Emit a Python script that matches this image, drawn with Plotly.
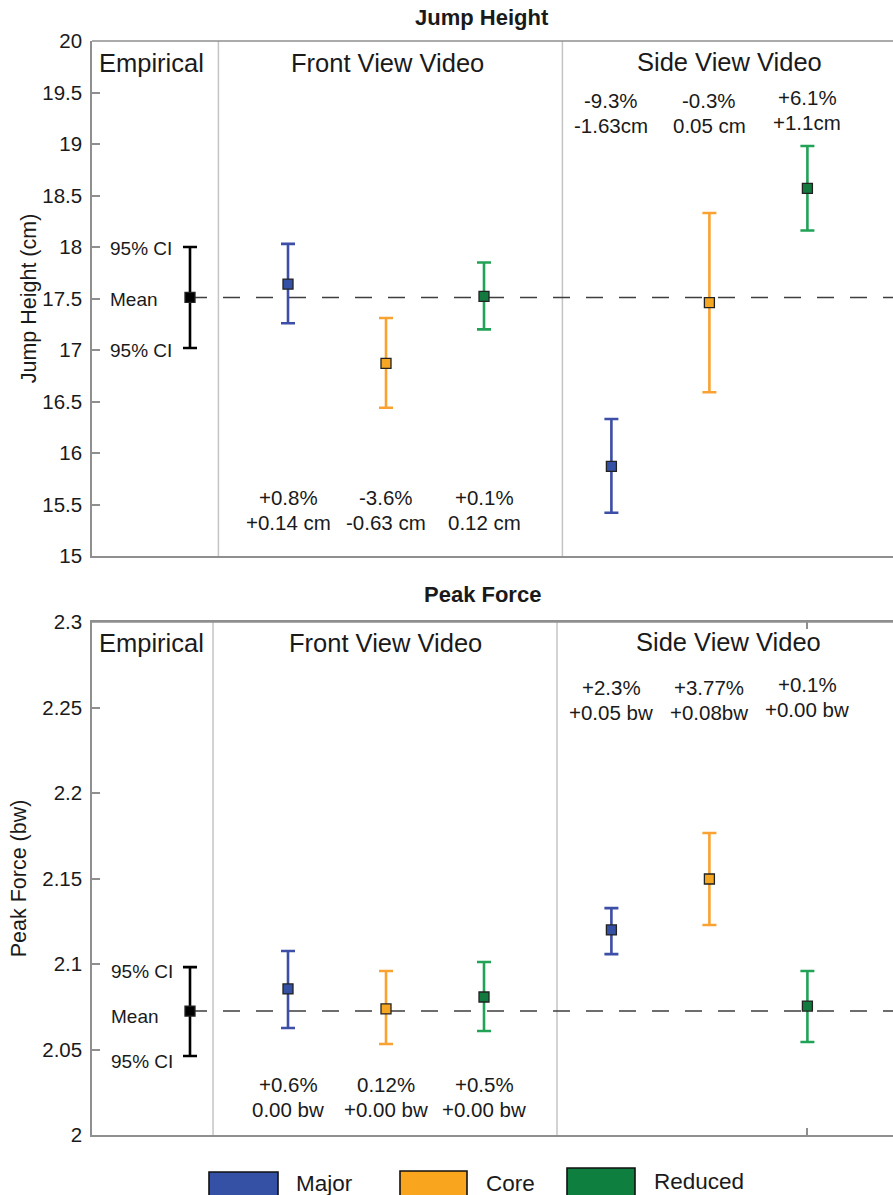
import plotly.graph_objects as go

# ---- data ----
groups = ["Major", "Core", "Reduced"]
marker_fill = {"Major": "#3551a6", "Core": "#f5a623", "Reduced": "#127a3f"}
bar_color = {"Major": "#3c4ea5", "Core": "#f9a232", "Reduced": "#22a257"}
legend_fill = {"Major": "#3551a6", "Core": "#f9a61e", "Reduced": "#0f7f40"}

# x positions: empirical slot, front view slots, side view slots
x_emp = 1.0
x_front = [2.0, 3.0, 4.0]
x_side = [5.3, 6.3, 7.3]

# Jump height (cm)
jh_emp_mean, jh_emp_lo, jh_emp_hi = 17.51, 17.02, 18.0
jh_front_mean = [17.64, 16.87, 17.52]
jh_front_lo = [17.26, 16.44, 17.20]
jh_front_hi = [18.03, 17.31, 17.85]
jh_side_mean = [15.87, 17.46, 18.57]
jh_side_lo = [15.42, 16.59, 18.16]
jh_side_hi = [16.33, 18.33, 18.98]
jh_front_labels = [("+0.8%", "+0.14 cm"), ("-3.6%", "-0.63 cm"), ("+0.1%", "0.12 cm")]
jh_side_labels = [("-9.3%", "-1.63cm"), ("-0.3%", "0.05 cm"), ("+6.1%", "+1.1cm")]

# Peak force (bw)
pf_emp_mean, pf_emp_lo, pf_emp_hi = 2.0725, 2.0462, 2.0982
pf_front_mean = [2.0854, 2.0737, 2.0807]
pf_front_lo = [2.0626, 2.0532, 2.0608]
pf_front_hi = [2.1076, 2.0959, 2.1012]
pf_side_mean = [2.1199, 2.1497, 2.0754]
pf_side_lo = [2.1058, 2.1228, 2.0544]
pf_side_hi = [2.1327, 2.1766, 2.0959]
pf_front_labels = [("+0.6%", "0.00 bw"), ("0.12%", "+0.00 bw"), ("+0.5%", "+0.00 bw")]
pf_side_labels = [("+2.3%", "+0.05 bw"), ("+3.77%", "+0.08bw"), ("+0.1%", "+0.00 bw")]

jh_ticks = [15, 15.5, 16, 16.5, 17, 17.5, 18, 18.5, 19, 19.5, 20]
pf_ticks = [2, 2.05, 2.1, 2.15, 2.2, 2.25, 2.3]

FONT = "Liberation Sans, Arial, sans-serif"
INK = "#1a1a1a"
AXIS = "#8f8f8f"
X_MAX = 801 / 98.0

fig = go.Figure()


def add_point(x, mean, lo, hi, fill, line, xa, ya):
    fig.add_trace(go.Scatter(
        x=[x], y=[mean], mode="markers", xaxis=xa, yaxis=ya,
        marker=dict(symbol="square", size=10, color=fill,
                    line=dict(color="#222222", width=1.3)),
        error_y=dict(type="data", symmetric=False, array=[hi - mean],
                     arrayminus=[mean - lo], color=line, thickness=2.6, width=7),
        showlegend=False, hoverinfo="skip"))


panels = [
    ("x", "y", (jh_emp_mean, jh_emp_lo, jh_emp_hi), (jh_front_mean, jh_front_lo, jh_front_hi),
     (jh_side_mean, jh_side_lo, jh_side_hi)),
    ("x2", "y2", (pf_emp_mean, pf_emp_lo, pf_emp_hi), (pf_front_mean, pf_front_lo, pf_front_hi),
     (pf_side_mean, pf_side_lo, pf_side_hi)),
]

for xa, ya, emp, front, side in panels:
    # dashed reference line at the empirical mean
    fig.add_shape(type="line", xref=xa, yref=ya, x0=x_emp, x1=X_MAX,
                  y0=emp[0], y1=emp[0], line=dict(color="#3e3e3e", width=1.4, dash="17px,16px"),
                  layer="below")
    add_point(x_emp, emp[0], emp[1], emp[2], "#000000", "#000000", xa, ya)
    for i, g in enumerate(groups):
        add_point(x_front[i], front[0][i], front[1][i], front[2][i],
                  marker_fill[g], bar_color[g], xa, ya)
        add_point(x_side[i], side[0][i], side[1][i], side[2][i],
                  marker_fill[g], bar_color[g], xa, ya)

# panel separators and top border
for xr, yr, seps in [("x", "y", [1.29, 4.80]), ("x2", "y2", [1.235, 4.745])]:
    for s in seps:
        fig.add_shape(type="line", xref=xr, yref=yr + " domain", x0=s, x1=s, y0=0, y1=1,
                      line=dict(color="#c4c4c4", width=1.5), layer="below")
    fig.add_shape(type="line", xref=xr + " domain", yref=yr + " domain", x0=0, x1=1, y0=1, y1=1,
                  line=dict(color=AXIS, width=1.5))

ann = []


def text(xr, yr, x, y, t, size=20.5, xanchor="center", yanchor="middle", **kw):
    ann.append(dict(xref=xr, yref=yr, x=x, y=y, text=t, showarrow=False,
                    xanchor=xanchor, yanchor=yanchor,
                    font=dict(family=FONT, size=size, color=INK), **kw))


# section headers
for xr, yr, ypos, emp_x, fr_x, sd_x in [("x", "y domain", 0.957, 0.61, 3.015, 6.5),
                                         ("x2", "y2 domain", 0.959, 0.605, 2.99, 6.49)]:
    text(xr, yr, emp_x, ypos, "Empirical", size=25.5)
    text(xr, yr, fr_x, ypos, "Front View Video", size=25.5)
    text(xr, yr, sd_x, ypos + 0.002, "Side View Video", size=25.5)

# difference labels (two lines each)
for xr, yr, labels, xs, ymid, shifts in [
    ("x", "y", jh_front_labels, x_front, 15.45, [0, 0, 0]),
    ("x", "y", jh_side_labels, x_side, 19.30, [0, 0, 3]),
    ("x2", "y2", pf_front_labels, x_front, 2.0222, [0, 0, 0]),
    ("x2", "y2", pf_side_labels, x_side, 2.2544, [0, 0, 3]),
]:
    for i, (l1, l2) in enumerate(labels):
        text(xr, yr, xs[i], ymid, l1, yshift=12.5 + shifts[i])
        text(xr, yr, xs[i], ymid, l2, yshift=-12.5 + shifts[i])

# CI / mean labels beside the empirical point
text("x", "y", 0.165, 17.99, "95% CI", size=19, xanchor="left")
text("x", "y", 0.165, 17.49, "Mean", size=19, xanchor="left")
text("x", "y", 0.165, 17.0, "95% CI", size=19, xanchor="left")
text("x2", "y2", 0.175, 2.0955, "95% CI", size=19, xanchor="left")
text("x2", "y2", 0.175, 2.0695, "Mean", size=19, xanchor="left")
text("x2", "y2", 0.175, 2.0432, "95% CI", size=19, xanchor="left")

# panel titles
text("paper", "y domain", 0.487, 1.0, "<b>Jump Height</b>", size=22, yanchor="bottom", yshift=9)
text("paper", "y2 domain", 0.487, 1.0, "<b>Peak Force</b>", size=22, yanchor="bottom", yshift=13)

# legend: coloured boxes with labels
legend_x = [(209, 278, 294), (400, 467, 484), (567, 635, 652)]
legend_top = {"Major": 1172, "Core": 1171, "Reduced": 1168}
for g, (x0, x1, xt) in zip(groups, legend_x):
    fig.add_shape(type="rect", xref="paper", yref="paper",
                  x0=(x0 - 92) / 801, x1=(x1 - 92) / 801,
                  y0=-(1197 - 1135) / 1094, y1=-(legend_top[g] - 1135) / 1094,
                  fillcolor=legend_fill[g], line=dict(color="#111111", width=1.6))
    text("paper", "paper", (xt - 92) / 801, -(1183 - 1135) / 1094, g, size=22.5,
         xanchor="left", yshift=2 if g == "Reduced" else 0)

axis_common = dict(showgrid=False, zeroline=False, showline=True, linecolor=AXIS, linewidth=1.5,
                   ticks="inside", tickcolor=AXIS, ticklen=8, tickwidth=1.5,
                   ticklabelstandoff=4,
                   tickfont=dict(family=FONT, size=20.5, color=INK))

fig.update_layout(
    width=893, height=1195,
    margin=dict(l=92, r=0, t=41, b=60),
    paper_bgcolor="white", plot_bgcolor="white",
    showlegend=False,
    annotations=ann,
    xaxis=dict(domain=[0, 1], range=[0, X_MAX], showticklabels=False, showline=True,
               linecolor=AXIS, linewidth=1.5, ticks="", showgrid=False, zeroline=False,
               anchor="y"),
    xaxis2=dict(domain=[0, 1], range=[0, X_MAX], showticklabels=False, showline=True,
                linecolor=AXIS, linewidth=1.5, showgrid=False, zeroline=False,
                tickvals=[x_side[2]], ticks="inside", ticklen=7, tickcolor=AXIS, tickwidth=1.5,
                mirror="ticks", anchor="y2"),
    yaxis=dict(domain=[(1135 - 556) / 1094, 1], range=[15, 20], tickvals=jh_ticks,
               ticktext=[f"{v:g}" for v in jh_ticks],
               title=dict(text="Jump Height (cm)", font=dict(family=FONT, size=21.5, color=INK),
                          standoff=0),
               **axis_common),
    yaxis2=dict(domain=[0, (1135 - 622) / 1094], range=[2, 2.3], tickvals=pf_ticks,
                ticktext=[f"{v:g}" for v in pf_ticks],
                title=dict(text="Peak Force (bw)", font=dict(family=FONT, size=21.5, color=INK),
                           standoff=10),
                **axis_common),
)

fig.write_html("out.html")
